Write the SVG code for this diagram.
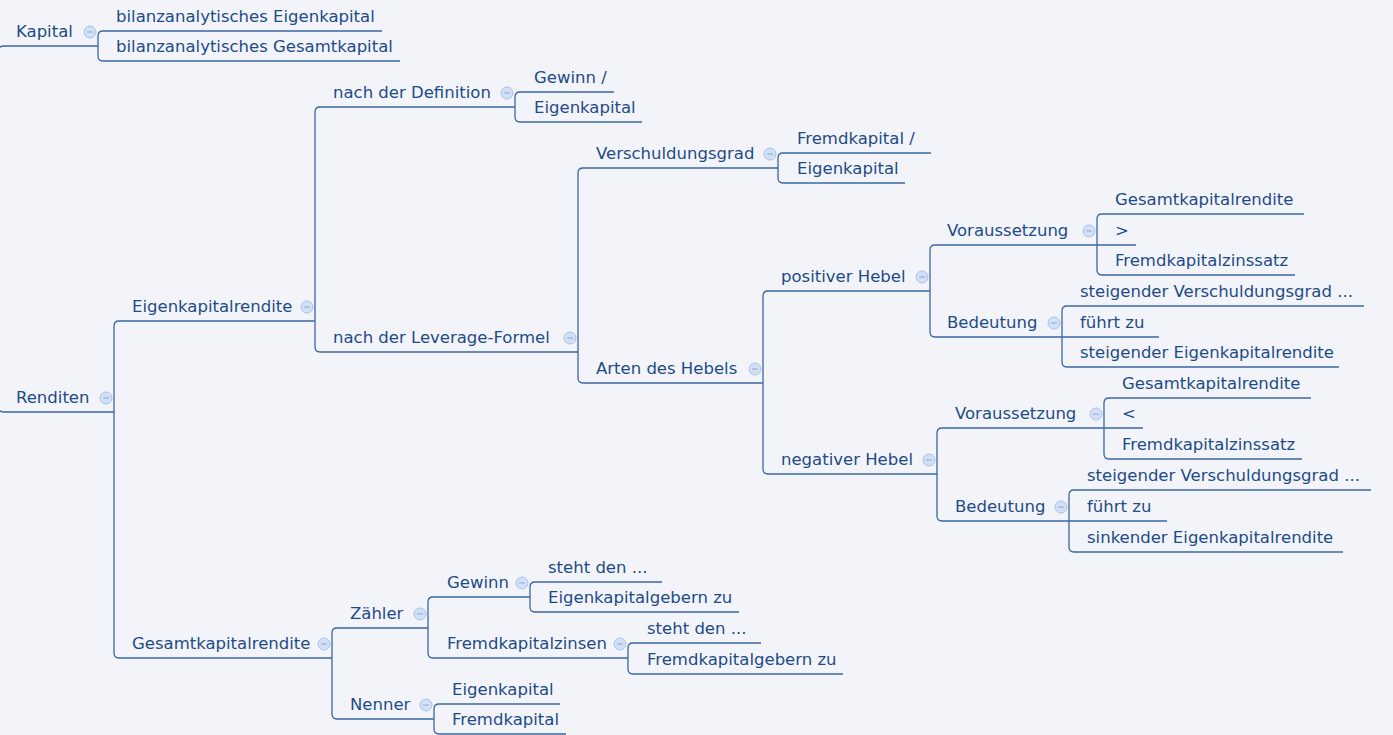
<svg xmlns="http://www.w3.org/2000/svg" xmlns:xlink="http://www.w3.org/1999/xlink" width="1393" height="735" viewBox="0 0 1393 735">
<style>
.t{font-family:"DejaVu Sans","Verdana",sans-serif;font-size:16.5px;fill:#1d4b87}
.u{fill:none;stroke:#3a67a2;stroke-width:1.3}
.c{fill:none;stroke:#3a67a2;stroke-width:1.3}
</style>
<defs>
<g id="ic"><circle r="6" fill="#d2e0f6" stroke="#a9c1e9" stroke-width="1"/><line x1="-2.8" y1="0" x2="2.8" y2="0" stroke="#8aa5d4" stroke-width="1"/></g>
</defs>
<rect width="1393" height="735" fill="#f3f4fa"/>
<g id="connectors">
<path class="c" d="M 4 46 Q -2 46 -2 52"/>
<path class="c" d="M -2 406 Q -2 412 4 412"/>
<path class="c" d="M 103 31 Q 98 31 98 36 V 56 Q 98 61 103 61"/>
<path class="c" d="M 119 321 Q 114 321 114 326 V 653 Q 114 658 119 658"/>
<path class="c" d="M 320 107 Q 315 107 315 112 V 347 Q 315 352 320 352"/>
<path class="c" d="M 520 92 Q 515 92 515 97 V 117 Q 515 122 520 122"/>
<path class="c" d="M 583 168 Q 578 168 578 173 V 378 Q 578 383 583 383"/>
<path class="c" d="M 783 153 Q 778 153 778 158 V 178 Q 778 183 783 183"/>
<path class="c" d="M 768 291 Q 763 291 763 296 V 469 Q 763 474 768 474"/>
<path class="c" d="M 935 245 Q 930 245 930 250 V 332 Q 930 337 935 337"/>
<path class="c" d="M 1102 214 Q 1097 214 1097 219 V 270 Q 1097 275 1102 275"/>
<path class="c" d="M 1067 306 Q 1062 306 1062 311 V 362 Q 1062 367 1067 367"/>
<path class="c" d="M 942 428 Q 937 428 937 433 V 516 Q 937 521 942 521"/>
<path class="c" d="M 1109 398 Q 1104 398 1104 403 V 454 Q 1104 459 1109 459"/>
<path class="c" d="M 1074 490 Q 1069 490 1069 495 V 547 Q 1069 552 1074 552"/>
<path class="c" d="M 337 628 Q 332 628 332 633 V 714 Q 332 719 337 719"/>
<path class="c" d="M 433 597 Q 428 597 428 602 V 653 Q 428 658 433 658"/>
<path class="c" d="M 535 582 Q 530 582 530 587 V 607 Q 530 612 535 612"/>
<path class="c" d="M 633 643 Q 628 643 628 648 V 669 Q 628 674 633 674"/>
<path class="c" d="M 439 704 Q 434 704 434 709 V 729 Q 434 734 439 734"/>
</g>
<g id="n-kapital"><path class="u" d="M 4 46 H 98"/><text class="t" x="16" y="37">Kapital</text><use href="#ic" x="90" y="32"/></g>
<g id="n-bil-ek"><path class="u" d="M 103 31 H 382"/><text class="t" x="116" y="22">bilanzanalytisches Eigenkapital</text></g>
<g id="n-bil-gk"><path class="u" d="M 103 61 H 400"/><text class="t" x="116" y="52">bilanzanalytisches Gesamtkapital</text></g>
<g id="n-renditen"><path class="u" d="M 4 412 H 114"/><text class="t" x="16" y="403">Renditen</text><use href="#ic" x="106" y="398"/></g>
<g id="n-ekr"><path class="u" d="M 119 321 H 315"/><text class="t" x="132" y="312">Eigenkapitalrendite</text><use href="#ic" x="307" y="307"/></g>
<g id="n-gkr"><path class="u" d="M 119 658 H 332"/><text class="t" x="132" y="649">Gesamtkapitalrendite</text><use href="#ic" x="324" y="644"/></g>
<g id="n-def"><path class="u" d="M 320 107 H 515"/><text class="t" x="333" y="98">nach der Definition</text><use href="#ic" x="507" y="93"/></g>
<g id="n-lev"><path class="u" d="M 320 352 H 578"/><text class="t" x="333" y="343">nach der Leverage-Formel</text><use href="#ic" x="570" y="338"/></g>
<g id="n-def-gew"><path class="u" d="M 520 92 H 614"/><text class="t" x="534" y="83">Gewinn /</text></g>
<g id="n-def-ek"><path class="u" d="M 520 122 H 642"/><text class="t" x="534" y="113">Eigenkapital</text></g>
<g id="n-vg"><path class="u" d="M 583 168 H 778"/><text class="t" x="596" y="159">Verschuldungsgrad</text><use href="#ic" x="770" y="154"/></g>
<g id="n-arten"><path class="u" d="M 583 383 H 763"/><text class="t" x="596" y="374">Arten des Hebels</text><use href="#ic" x="755" y="369"/></g>
<g id="n-vg-fk"><path class="u" d="M 783 153 H 931"/><text class="t" x="797" y="144">Fremdkapital /</text></g>
<g id="n-vg-ek"><path class="u" d="M 783 183 H 905"/><text class="t" x="797" y="174">Eigenkapital</text></g>
<g id="n-pos"><path class="u" d="M 768 291 H 930"/><text class="t" x="781" y="282">positiver Hebel</text><use href="#ic" x="922" y="277"/></g>
<g id="n-neg"><path class="u" d="M 768 474 H 937"/><text class="t" x="781" y="465">negativer Hebel</text><use href="#ic" x="929" y="460"/></g>
<g id="n-pos-vor"><path class="u" d="M 935 245 H 1097"/><text class="t" x="947" y="236">Voraussetzung</text><use href="#ic" x="1089" y="231"/></g>
<g id="n-pos-bed"><path class="u" d="M 935 337 H 1062"/><text class="t" x="947" y="328">Bedeutung</text><use href="#ic" x="1054" y="323"/></g>
<g id="n-pos-vor-1"><path class="u" d="M 1102 214 H 1304"/><text class="t" x="1115" y="205">Gesamtkapitalrendite</text></g>
<g id="n-pos-vor-2"><path class="u" d="M 1097 245 H 1136"/><text class="t" x="1115" y="236">&gt;</text></g>
<g id="n-pos-vor-3"><path class="u" d="M 1102 275 H 1295"/><text class="t" x="1115" y="266">Fremdkapitalzinssatz</text></g>
<g id="n-pos-bed-1"><path class="u" d="M 1067 306 H 1364"/><text class="t" x="1080" y="297">steigender Verschuldungsgrad ...</text></g>
<g id="n-pos-bed-2"><path class="u" d="M 1062 337 H 1159"/><text class="t" x="1080" y="328">führt zu</text></g>
<g id="n-pos-bed-3"><path class="u" d="M 1067 367 H 1339"/><text class="t" x="1080" y="358">steigender Eigenkapitalrendite</text></g>
<g id="n-neg-vor"><path class="u" d="M 942 428 H 1104"/><text class="t" x="955" y="419">Voraussetzung</text><use href="#ic" x="1096" y="414"/></g>
<g id="n-neg-bed"><path class="u" d="M 942 521 H 1069"/><text class="t" x="955" y="512">Bedeutung</text><use href="#ic" x="1061" y="507"/></g>
<g id="n-neg-vor-1"><path class="u" d="M 1109 398 H 1311"/><text class="t" x="1122" y="389">Gesamtkapitalrendite</text></g>
<g id="n-neg-vor-2"><path class="u" d="M 1104 428 H 1143"/><text class="t" x="1122" y="419">&lt;</text></g>
<g id="n-neg-vor-3"><path class="u" d="M 1109 459 H 1302"/><text class="t" x="1122" y="450">Fremdkapitalzinssatz</text></g>
<g id="n-neg-bed-1"><path class="u" d="M 1074 490 H 1371"/><text class="t" x="1087" y="481">steigender Verschuldungsgrad ...</text></g>
<g id="n-neg-bed-2"><path class="u" d="M 1069 521 H 1167"/><text class="t" x="1087" y="512">führt zu</text></g>
<g id="n-neg-bed-3"><path class="u" d="M 1074 552 H 1343"/><text class="t" x="1087" y="543">sinkender Eigenkapitalrendite</text></g>
<g id="n-zaehler"><path class="u" d="M 337 628 H 428"/><text class="t" x="350" y="619">Zähler</text><use href="#ic" x="420" y="614"/></g>
<g id="n-nenner"><path class="u" d="M 337 719 H 434"/><text class="t" x="350" y="710">Nenner</text><use href="#ic" x="426" y="705"/></g>
<g id="n-gewinn"><path class="u" d="M 433 597 H 530"/><text class="t" x="447" y="588">Gewinn</text><use href="#ic" x="522" y="583"/></g>
<g id="n-fkz"><path class="u" d="M 433 658 H 628"/><text class="t" x="447" y="649">Fremdkapitalzinsen</text><use href="#ic" x="620" y="644"/></g>
<g id="n-gew-1"><path class="u" d="M 535 582 H 662"/><text class="t" x="548" y="573">steht den ...</text></g>
<g id="n-gew-2"><path class="u" d="M 535 612 H 739"/><text class="t" x="548" y="603">Eigenkapitalgebern zu</text></g>
<g id="n-fkz-1"><path class="u" d="M 633 643 H 761"/><text class="t" x="647" y="634">steht den ...</text></g>
<g id="n-fkz-2"><path class="u" d="M 633 674 H 843"/><text class="t" x="647" y="665">Fremdkapitalgebern zu</text></g>
<g id="n-nen-1"><path class="u" d="M 439 704 H 560"/><text class="t" x="452" y="695">Eigenkapital</text></g>
<g id="n-nen-2"><path class="u" d="M 439 734 H 566"/><text class="t" x="452" y="725">Fremdkapital</text></g>
</svg>
